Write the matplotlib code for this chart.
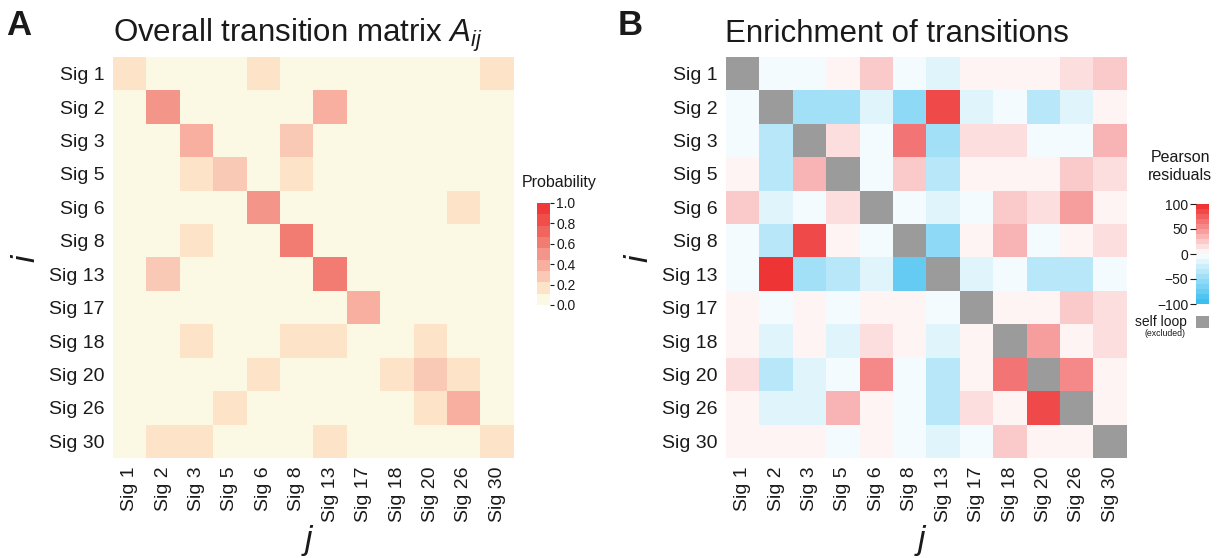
import numpy as np
import matplotlib
matplotlib.use("Agg")
import matplotlib.pyplot as plt
from matplotlib.colors import LinearSegmentedColormap, ListedColormap, Normalize
from matplotlib.patches import Rectangle
import matplotlib.cm as cm

plt.rcParams['font.family'] = ['Liberation Sans', 'DejaVu Sans']
plt.rcParams['mathtext.fontset'] = 'custom'
plt.rcParams['mathtext.rm'] = 'Liberation Sans'
plt.rcParams['mathtext.it'] = 'Liberation Sans:italic'

# ---------------- data ----------------
signatures = ['Sig 1', 'Sig 2', 'Sig 3', 'Sig 5', 'Sig 6', 'Sig 8',
              'Sig 13', 'Sig 17', 'Sig 18', 'Sig 20', 'Sig 26', 'Sig 30']

# rows i (from), columns j (to)
transition_probability = [
    [0.16, 0.00, 0.00, 0.00, 0.16, 0.00, 0.00, 0.00, 0.00, 0.00, 0.00, 0.16],
    [0.00, 0.50, 0.00, 0.00, 0.00, 0.00, 0.39, 0.00, 0.00, 0.00, 0.00, 0.00],
    [0.00, 0.00, 0.39, 0.00, 0.00, 0.28, 0.00, 0.00, 0.00, 0.00, 0.00, 0.00],
    [0.00, 0.00, 0.16, 0.28, 0.00, 0.16, 0.00, 0.00, 0.00, 0.00, 0.00, 0.00],
    [0.00, 0.00, 0.00, 0.00, 0.50, 0.00, 0.00, 0.00, 0.00, 0.00, 0.16, 0.00],
    [0.00, 0.00, 0.16, 0.00, 0.00, 0.61, 0.00, 0.00, 0.00, 0.00, 0.00, 0.00],
    [0.00, 0.28, 0.00, 0.00, 0.00, 0.00, 0.61, 0.00, 0.00, 0.00, 0.00, 0.00],
    [0.00, 0.00, 0.00, 0.00, 0.00, 0.00, 0.00, 0.39, 0.00, 0.00, 0.00, 0.00],
    [0.00, 0.00, 0.16, 0.00, 0.00, 0.16, 0.16, 0.00, 0.00, 0.16, 0.00, 0.00],
    [0.00, 0.00, 0.00, 0.00, 0.16, 0.00, 0.00, 0.00, 0.16, 0.28, 0.16, 0.00],
    [0.00, 0.00, 0.00, 0.16, 0.00, 0.00, 0.00, 0.00, 0.00, 0.16, 0.39, 0.00],
    [0.00, 0.16, 0.16, 0.00, 0.00, 0.00, 0.16, 0.00, 0.00, 0.00, 0.00, 0.16],
]

nan = np.nan
pearson_residuals = [
    [nan,  -5,  -5,   5,  25,  -5, -20,   5,   5,   5,  15,  25],
    [ -5, nan, -45, -45, -20, -60,  88, -20,  -5, -35, -20,   5],
    [ -5, -35, nan,  15,  -5,  65, -45,  15,  15,  -5,  -5,  35],
    [  5, -35,  35, nan,  -5,  25, -35,   5,   5,   5,  25,  15],
    [ 25, -20,  -5,  15, nan,  -5, -20,  -5,  25,  15,  45,   5],
    [ -5, -35,  85,   5,  -5, nan, -60,   5,  35,  -5,   5,  15],
    [ -5,  98, -45, -35, -20, -75, nan, -20,  -5, -35, -35,  -5],
    [  5,  -5,   5,  -5,   5,   5,  -5, nan,   5,   5,  25,  15],
    [  5, -20,   5, -20,  15,   5, -20,   5, nan,  45,   5,  15],
    [ 15, -35, -20,  -5,  50,  -5, -35,   5,  65, nan,  55,   5],
    [  5, -20, -20,  35,   5,  -5, -35,  15,   5,  85, nan,   5],
    [  5,   5,   5,  -5,   5,  -5, -20,  -5,  25,   5,   5, nan],
]

prob_ticks = [0.0, 0.2, 0.4, 0.6, 0.8, 1.0]
resid_ticks = [-100, -50, 0, 50, 100]

# ---------------- figure ----------------
W, H = 1217, 558
fig = plt.figure(figsize=(W / 100, H / 100), dpi=100)


def rect(x0, y0, x1, y1):
    return [x0 / W, 1 - y1 / H, (x1 - x0) / W, (y1 - y0) / H]


prob_cmap = ListedColormap(['#FBF9E3', '#FDE3C8', '#FAC9B5', '#F8AFA0',
                            '#F4958A', '#F27C72', '#F1655F', '#F04E4B',
                            '#EE3A3A'])
prob_norm = Normalize(0, 1)

res_cmap = LinearSegmentedColormap.from_list(
    'res', ['#3CBEEF', '#FFFFFF', '#EE3434'], N=20)
res_cmap.set_bad('#9B9B9B')
res_norm = Normalize(-100, 100)

axA = fig.add_axes(rect(113, 57, 514, 458))
axB = fig.add_axes(rect(726, 57, 1127, 458))

axA.imshow(np.array(transition_probability), cmap=prob_cmap, norm=prob_norm,
           aspect='auto', interpolation='nearest')
axB.imshow(np.ma.masked_invalid(np.array(pearson_residuals, dtype=float)),
           cmap=res_cmap, norm=res_norm, aspect='auto', interpolation='nearest')

for ax in (axA, axB):
    n = len(signatures)
    ax.set_xticks(range(n))
    ax.set_xticklabels(signatures, rotation=90, fontsize=14)
    ax.set_yticks(range(n))
    ax.set_yticklabels(signatures, fontsize=14)
    ax.tick_params(length=0, pad=6, colors='#1a1a1a')
    for s in ax.spines.values():
        s.set_visible(False)

# colorbars
caxA = fig.add_axes(rect(537, 203, 550, 305))
cbA = fig.colorbar(cm.ScalarMappable(norm=prob_norm, cmap=prob_cmap), cax=caxA,
                   ticks=prob_ticks)
cbA.outline.set_visible(False)
cbA.ax.set_yticklabels([f'{t:.1f}' for t in prob_ticks])
cbA.ax.tick_params(length=3, width=0.8, pad=1.5, labelsize=10, colors='#1a1a1a')

caxB = fig.add_axes(rect(1196, 204, 1209, 304))
cbB = fig.colorbar(cm.ScalarMappable(norm=res_norm, cmap=res_cmap), cax=caxB,
                   ticks=resid_ticks)
cbB.outline.set_visible(False)
cbB.ax.yaxis.set_ticks_position('left')
cbB.ax.yaxis.set_label_position('left')
cbB.ax.tick_params(length=4, width=0.8, pad=1.5, labelsize=10, colors='#1a1a1a')

# texts
txt = '#1a1a1a'
fig.text(6 / W, 1 - 35 / H, 'A', fontsize=25, fontweight='bold', va='baseline', color=txt)
fig.text(618 / W, 1 - 35 / H, 'B', fontsize=25, fontweight='bold', va='baseline', color=txt)
fig.text(113 / W, 1 - 42 / H, 'Overall transition matrix $A_{ij}$', fontsize=22.5,
         va='baseline', color=txt)
fig.text(725 / W, 1 - 42 / H, 'Enrichment of transitions', fontsize=22.5,
         va='baseline', color=txt)

for xi, xj in ((26, 308), (639, 921)):
    fig.text(xi / W, 1 - 258 / H, 'i', style='italic', fontsize=24, rotation=90,
             ha='center', va='center', color=txt)
    fig.text(xj / W, 1 - 541 / H, 'j', style='italic', fontsize=24,
             ha='center', va='center', color=txt)

fig.text(559 / W, 1 - 182 / H, 'Probability', fontsize=11.5, ha='center',
         va='center', color=txt)
fig.text(1180 / W, 1 - 167 / H, 'Pearson\nresiduals', fontsize=11.5, ha='center',
         va='center', linespacing=1.25, color=txt)
fig.add_artist(Rectangle((1196 / W, 1 - 328 / H), 13 / W, 12 / H,
                         transform=fig.transFigure, facecolor='#9B9B9B',
                         edgecolor='none'))
fig.text(1187 / W, 1 - 322 / H, 'self loop', fontsize=10, ha='right',
         va='center', color=txt)
fig.text(1165 / W, 1 - 334 / H, '(excluded)', fontsize=6.3, ha='center',
         va='center', color=txt)

fig.savefig('out.png', dpi=100)
